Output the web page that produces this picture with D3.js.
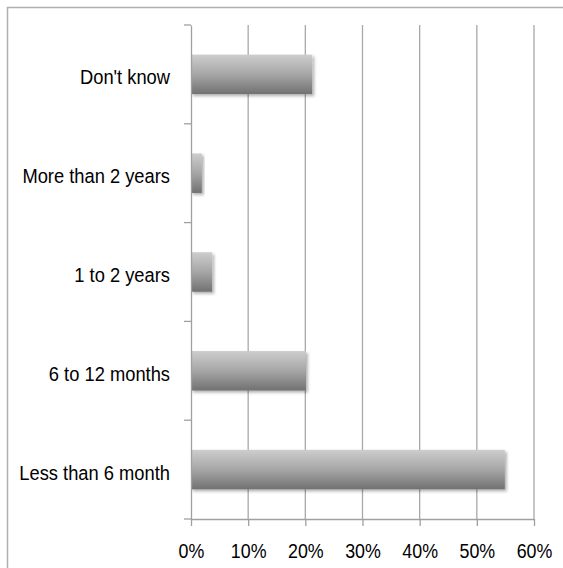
<!DOCTYPE html>
<html>
<head>
<meta charset="utf-8">
<script src="https://cdn.jsdelivr.net/npm/d3@7"></script>
<style>
  html, body { margin: 0; padding: 0; background: #fff; }
  svg { display: block; }
  text { font-family: "Liberation Sans", Arial, Helvetica, sans-serif; fill: #000; }
</style>
</head>
<body>
<svg id="chart" width="563" height="568"></svg>
<script>
const categories = ["Don't know", "More than 2 years", "1 to 2 years", "6 to 12 months", "Less than 6 month"];
const values = [0.212, 0.019, 0.037, 0.201, 0.549];
const tickValues = [0, 0.1, 0.2, 0.3, 0.4, 0.5, 0.6];

const svg = d3.select("#chart");
const margin = { left: 191, right: 29, top: 25, bottom: 49 };
const W = 563, H = 568;

// outer chart border
svg.append("rect")
  .attr("x", 7.5).attr("y", 7.5)
  .attr("width", 700).attr("height", 700)
  .attr("fill", "none").attr("stroke", "#b0b0b0").attr("stroke-width", 1.5);

const x = d3.scaleLinear().domain([0, 0.6]).range([margin.left, W - margin.right]);
const y = d3.scaleBand().domain(categories)
  .range([margin.top, H - margin.bottom])
  .paddingInner(0.6).paddingOuter(0.3);

const defs = svg.append("defs");
const grad = defs.append("linearGradient").attr("id", "barGrad")
  .attr("x1", 0).attr("y1", 0).attr("x2", 0).attr("y2", 1);
grad.append("stop").attr("offset", "0%").attr("stop-color", "#cdcdcd");
grad.append("stop").attr("offset", "50%").attr("stop-color", "#a6a6a6");
grad.append("stop").attr("offset", "100%").attr("stop-color", "#717171");

const f = defs.append("filter").attr("id", "shadow")
  .attr("x", "-10%").attr("y", "-30%").attr("width", "130%").attr("height", "170%");
f.append("feDropShadow").attr("dx", 2).attr("dy", 2).attr("stdDeviation", 1.8)
  .attr("flood-color", "#000").attr("flood-opacity", 0.3);

// gridlines
svg.append("g").selectAll("line")
  .data(tickValues.slice(1))
  .join("line")
  .attr("x1", d => x(d)).attr("x2", d => x(d))
  .attr("y1", margin.top).attr("y2", H - margin.bottom)
  .attr("stroke", "#a8a8a8").attr("stroke-width", 1.3);

// bars
svg.append("g").selectAll("rect")
  .data(categories)
  .join("rect")
  .attr("x", x(0))
  .attr("y", d => y(d))
  .attr("width", (d, i) => x(values[i]) - x(0))
  .attr("height", y.bandwidth())
  .attr("fill", "url(#barGrad)")
  .attr("filter", "url(#shadow)");

// bottom axis
const xAxis = d3.axisBottom(x)
  .tickValues(tickValues)
  .tickFormat(d3.format(".0%"))
  .tickSize(7).tickSizeOuter(0).tickPadding(0);
const gx = svg.append("g")
  .attr("transform", `translate(0,${H - margin.bottom})`)
  .call(xAxis);
gx.select(".domain").attr("stroke", "#a0a0a0").attr("stroke-width", 1.3);
gx.selectAll(".tick line").attr("stroke", "#a0a0a0").attr("stroke-width", 1.3);
gx.selectAll(".tick text")
  .attr("y", 0).attr("dy", null)
  .attr("font-size", 21)
  .attr("transform", "translate(0,39) scale(0.85,1)");

// left axis
const yAxis = d3.axisLeft(y).tickSize(0).tickPadding(0);
const gy = svg.append("g")
  .attr("transform", `translate(${margin.left},0)`)
  .call(yAxis);
gy.select(".domain").attr("stroke", "#a0a0a0").attr("stroke-width", 1.3);
gy.selectAll(".tick text")
  .attr("x", 0).attr("dy", null)
  .attr("font-size", 19.5)
  .attr("transform", "translate(-21,10) scale(0.94,1)");

// category boundary ticks
const bounds = d3.range(categories.length + 1).map(i => y.range()[0] + i * y.step());
gy.append("g").selectAll("line")
  .data(bounds)
  .join("line")
  .attr("x1", -7).attr("x2", 0)
  .attr("y1", d => d).attr("y2", d => d)
  .attr("stroke", "#a0a0a0").attr("stroke-width", 1.3);
</script>
</body>
</html>
